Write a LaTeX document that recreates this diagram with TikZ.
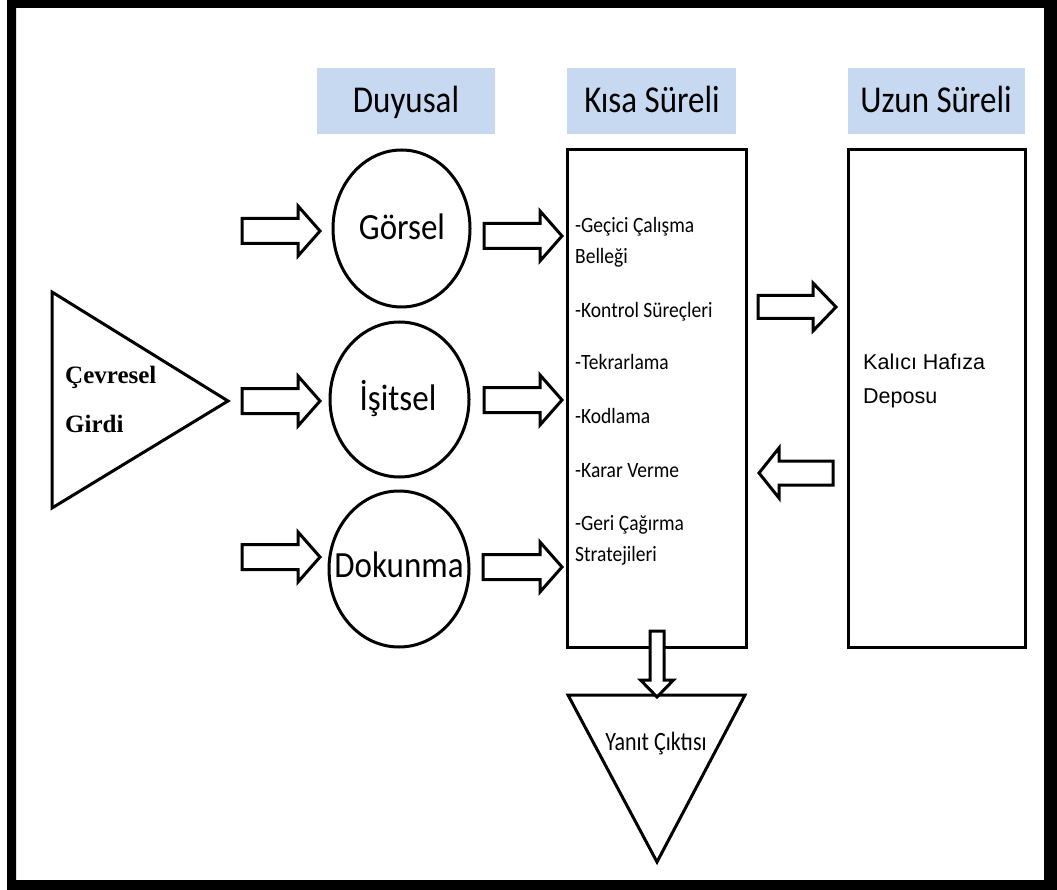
\documentclass[tikz,border=0pt]{standalone}
\usepackage{fontspec}
\newfontfamily\calfont{Carlito}
\newfontfamily\arlfont{Liberation Sans}
\newfontfamily\tmsfont{Liberation Serif}
\usetikzlibrary{shapes.geometric,calc}
\definecolor{hdrblue}{RGB}{198,217,241}
\tikzset{
  hdr/.style={fill=hdrblue, draw=none, inner sep=0pt},
  hdrtext/.style={font=\calfont\fontsize{33}{36}\selectfont, anchor=base, inner sep=0pt, yscale=1.15, transform shape},
  ell/.style={draw, line width=3pt, ellipse, inner sep=0pt},
  ellText/.style={font=\calfont\fontsize{33}{36}\selectfont, anchor=base, inner sep=0pt, yscale=1.12, transform shape},
  memrect/.style={draw, line width=3pt, rectangle, inner sep=0pt},
  item/.style={font=\calfont\fontsize{19.5}{22}\selectfont, anchor=base west, inner sep=0pt, yscale=1.12, transform shape},
  kaltext/.style={font=\arlfont\fontsize{21.5}{24}\selectfont, anchor=base west, inner sep=0pt},
  cevtext/.style={font=\tmsfont\bfseries\fontsize{25}{28}\selectfont, anchor=base west, inner sep=0pt},
  barrowstyle/.style={draw, line width=3pt, fill=white, line join=miter},
  tri/.style={draw, line width=3pt, line join=miter},
}
% #1 tip coordinate, #2 angle, #3 total length, #4 shaft width, #5 head width, #6 head length
\newcommand\blockarr[6]{%
  \draw[barrowstyle, shift={(#1)}, rotate=#2] (0,0) -- (-#6,-#5/2) -- (-#6,-#4/2) -- (-#3,-#4/2)
    -- (-#3,#4/2) -- (-#6,#4/2) -- (-#6,#5/2) -- cycle;}
\begin{document}
\begin{tikzpicture}[x=1pt,y=-1pt]
\useasboundingbox (0,0) rectangle (1057,890);
\fill[white] (0,0) rectangle (1057,890);
% frame
\fill[black, even odd rule] (7,0) rectangle (1057,890) (16,8) rectangle (1044,880);

% headers
\node[hdr, minimum width=178pt, minimum height=66pt] (hd) at (406,101) {};
\node[hdr, minimum width=169pt, minimum height=66pt] (hk) at (651.5,101) {};
\node[hdr, minimum width=177pt, minimum height=66pt] (hu) at (936.5,101) {};
\node[hdrtext] (hdt) at (406,113) {Duyusal};
\node[hdrtext] (hkt) at (652,113) {Kısa Süreli};
\node[hdrtext] (hut) at (936,113) {Uzun Süreli};

% sensory ellipses
\node[ell, minimum width=137pt, minimum height=157pt] (gor) at (401.5,228.5) {};
\node[ell, minimum width=139pt, minimum height=155pt] (isi) at (399.5,399.5) {};
\node[ell, minimum width=140pt, minimum height=156pt] (dok) at (399,569) {};
\node[ellText] (gort) at (402,240) {Görsel};
\node[ellText] (isit) at (398,410) {İşitsel};
\node[ellText] (dokt) at (399,577) {Dokunma};

% short-term box
\node[memrect, minimum width=179pt, minimum height=497pt] (kisa) at (656.5,398.5) {};
\node[item] (i1) at (575,233) {-Geçici Çalışma};
\node[item] (i1b) at (575,264) {Belleği};
\node[item] (i2) at (575,318) {-Kontrol Süreçleri};
\node[item] (i3) at (575,370) {-Tekrarlama};
\node[item] (i4) at (575,423) {-Kodlama};
\node[item] (i5) at (575,477) {-Karar Verme};
\node[item] (i6) at (575,530) {-Geri Çağırma};
\node[item] (i6b) at (575,561) {Stratejileri};

% long-term box
\node[memrect, minimum width=177pt, minimum height=497pt] (uzun) at (936.5,398.5) {};
\node[kaltext] (kal1) at (863,370) {Kalıcı Hafıza};
\node[kaltext] (kal2) at (863,403) {Deposu};

% input triangle
\draw[tri] (52,292) coordinate (ca) -- (228,401) coordinate (cb) -- (52,508) coordinate (cc) -- cycle;
\node[cevtext] (cev) at (65,383) {Çevresel};
\node[cevtext] (gir) at (65,432) {Girdi};

% output triangle
\draw[tri] (568,695) coordinate (ya) -- (745,695) coordinate (yb) -- (657,862) coordinate (yc) -- cycle;
\node[font=\calfont\fontsize{22}{26}\selectfont, anchor=base, inner sep=0pt, yscale=1.2, transform shape] (yan) at (656,750) {Yanıt Çıktısı};

% arrows
\coordinate (t1) at (320,231);
\coordinate (t2) at (320,401);
\coordinate (t3) at (320,557);
\coordinate (t4) at (562,236);
\coordinate (t5) at (562,400);
\coordinate (t6) at (562,567);
\coordinate (t7) at (836,307);
\coordinate (t8) at (759,473);
\coordinate (t9) at (657,697);
\blockarr{t1}{0}{78}{25}{50}{22}
\blockarr{t2}{0}{78}{25}{50}{22}
\blockarr{t3}{0}{78}{25}{50}{22}
\blockarr{t4}{0}{78}{25}{50}{22}
\blockarr{t5}{0}{78}{25}{50}{22}
\blockarr{t6}{0}{79}{25}{50}{22}
\blockarr{t7}{0}{78}{23}{48}{23}
\blockarr{t8}{180}{74}{24}{50}{20}
\blockarr{t9}{-90}{66}{14}{33}{17}
\end{tikzpicture}
\end{document}
